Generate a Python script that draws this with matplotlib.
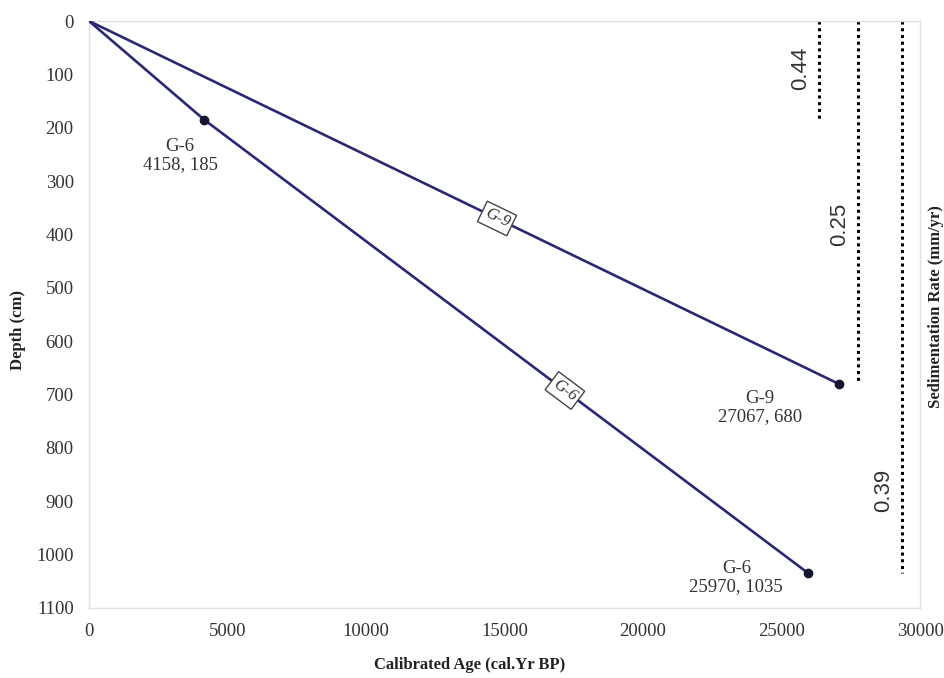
import numpy as np
import matplotlib
matplotlib.use("Agg")
import matplotlib.pyplot as plt

plt.rcParams['font.family'] = ['Liberation Serif', 'DejaVu Serif']

# core ages (cal. yr BP) and depths (cm)
g6_age = [0, 4158, 25970]
g6_depth = [0, 185, 1035]
g9_age = [0, 27067]
g9_depth = [0, 680]

# sedimentation rates (mm/yr) and the depth span each one covers
rates = ["0.44", "0.25", "0.39"]
rate_depth_top = [0, 0, 0]
rate_depth_bot = [185, 680, 1035]

x_ticks = [0, 5000, 10000, 15000, 20000, 25000, 30000]
y_ticks = [0, 100, 200, 300, 400, 500, 600, 700, 800, 900, 1000, 1100]

# layout only
rate_x = [26350, 27760, 29350]
rate_label_depth = [88, 382, 879]

line_col = "#2a2872"
dot_col = "#15152e"

fig = plt.figure(figsize=(9.45, 6.78), dpi=100)
ax = fig.add_axes([89 / 945, 1 - 608 / 678, (920 - 89) / 945, (608 - 21) / 678])
ax.set_xlim(0, 30000)
ax.set_ylim(1100, 0)
ax.set_xticks(x_ticks)
ax.set_yticks(y_ticks)
ax.tick_params(length=0, labelsize=13.5, colors="#333333", pad=11)
for s in ax.spines.values():
    s.set_color("#e0e0e0")
    s.set_linewidth(1)

ax.plot(g9_age, g9_depth, color=line_col, lw=1.9, zorder=3)
ax.plot(g6_age, g6_depth, color=line_col, lw=1.9, zorder=3)
ax.plot(g6_age[1:], g6_depth[1:], "o", color=dot_col, ms=6, zorder=4)
ax.plot(g9_age[1:], g9_depth[1:], "o", color=dot_col, ms=6, zorder=4)

# point labels
lab_kw = dict(textcoords="offset pixels", ha="center", va="center",
              fontsize=13.5, color="#333333", linespacing=1.1)
ax.annotate(f"G-6\n{g6_age[1]}, {g6_depth[1]}", (g6_age[1], g6_depth[1]),
            xytext=(-24, -36), **lab_kw)
ax.annotate(f"G-9\n{g9_age[1]}, {g9_depth[1]}", (g9_age[1], g9_depth[1]),
            xytext=(-79, -24), **lab_kw)
ax.annotate(f"G-6\n{g6_age[2]}, {g6_depth[2]}", (g6_age[2], g6_depth[2]),
            xytext=(-72, -4), **lab_kw)

# inline series labels along the lines
fig.canvas.draw()


def inline_label(ages, depths, x_at, text):
    y_at = np.interp(x_at, ages, depths)
    p0 = ax.transData.transform((ages[-2], depths[-2]))
    p1 = ax.transData.transform((ages[-1], depths[-1]))
    ang = np.degrees(np.arctan2(p1[1] - p0[1], p1[0] - p0[0]))
    ax.text(x_at, y_at, text, rotation=ang, rotation_mode="anchor",
            ha="center", va="center", fontsize=12, style="italic",
            color="#333333", zorder=5,
            bbox=dict(boxstyle="square,pad=0.2", fc="white", ec="#444444", lw=1))


inline_label(g9_age, g9_depth, 14730, "G-9")
inline_label(g6_age, g6_depth, 17180, "G-6")

# sedimentation rate bars
for r, x, top, bot, ly in zip(rates, rate_x, rate_depth_top, rate_depth_bot, rate_label_depth):
    ax.plot([x, x], [top, bot], color="black", lw=2.2, ls=(0, (1, 1.2)), zorder=2)
    ax.annotate(r, (x, ly), xytext=(-8, 0), textcoords="offset pixels",
                rotation=90, ha="right", va="center", fontsize=16,
                family="Liberation Sans", color="#333333")

fig.text(470 / 945, 1 - 665 / 678, "Calibrated Age (cal.Yr BP)", ha="center", va="center",
         fontsize=12, fontweight="bold", color="#222222")
fig.text(18 / 945, 1 - 330 / 678, "Depth (cm)", ha="center", va="center", rotation=90,
         fontsize=12, fontweight="bold", color="#222222")
fig.text(936 / 945, 1 - 307 / 678, "Sedimentation Rate (mm/yr)", ha="center", va="center",
         rotation=90, fontsize=12, fontweight="bold", color="#222222")

fig.savefig("out.png", dpi=100)
